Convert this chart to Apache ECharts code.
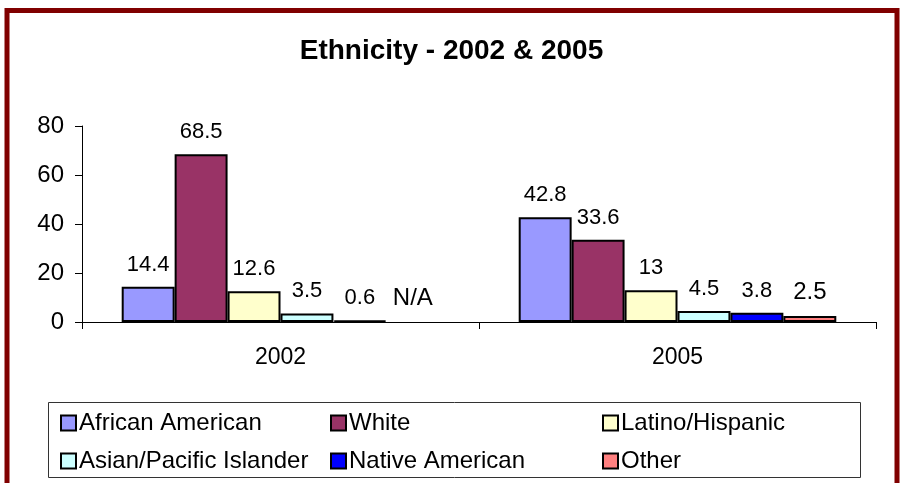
<!DOCTYPE html>
<html>
<head>
<meta charset="utf-8">
<script src="https://cdn.jsdelivr.net/npm/echarts@6/dist/echarts.min.js"></script>
<style>
html,body{margin:0;padding:0;background:#fff;}
#chart{width:903px;height:483px;}
</style>
</head>
<body>
<div id="chart"></div>
<script>
// ---- Data ----
const categories = ['2002', '2005'];
const seriesNames = ['African American', 'White', 'Latino/Hispanic', 'Asian/Pacific Islander', 'Native American', 'Other'];
const africanAmerican = [14.4, 42.8];
const white = [68.5, 33.6];
const latinoHispanic = [12.6, 13];
const asianPacific = [3.5, 4.5];
const nativeAmerican = [0.6, 3.8];
const other = [null, 2.5]; // null = N/A
const naLabel = 'N/A';
const yMin = 0, yMax = 80, yInterval = 20;

const colors = ['#9999FF', '#993366', '#FFFFCC', '#CCFFFF', '#0000FF', '#FF8080'];
const FONT = '"Liberation Sans", Arial, sans-serif';

const valuesList = [africanAmerican, white, latinoHispanic, asianPacific, nativeAmerican, other];

const series = valuesList.map((vals, i) => {
  const isOther = i === 5;
  return {
    name: seriesNames[i],
    type: 'bar',
    barGap: '0%',
    barCategoryGap: '20%',
    itemStyle: { color: colors[i], borderColor: '#000', borderWidth: 2 },
    label: {
      show: true,
      position: 'top',
      distance: isOther ? 12 : 11,
      color: '#000',
      fontFamily: FONT,
      fontSize: isOther ? 24 : 22
    },
    data: vals.map(v => v === null
      ? { value: 0, itemStyle: { color: 'rgba(0,0,0,0)', borderWidth: 0 }, label: { formatter: naLabel } }
      : v)
  };
});

const legendCommon = {
  orient: 'vertical',
  top: 406,
  itemWidth: 15,
  itemHeight: 15,
  itemGap: 14,
  icon: 'rect',
  textStyle: { fontFamily: FONT, fontSize: 24, color: '#000', padding: [0, 0, 0, -2] }
};

const chart = echarts.init(document.getElementById('chart'), null, { renderer: 'canvas' });
chart.setOption({
  backgroundColor: '#fff',
  animation: false,
  title: {
    text: 'Ethnicity - 2002 & 2005',
    left: 'center',
    top: 32,
    textStyle: { fontFamily: FONT, fontSize: 28, fontWeight: 'bold', color: '#000' }
  },
  grid: { left: 82, right: 27, top: 126, bottom: 161, containLabel: false },
  xAxis: {
    type: 'category',
    data: categories,
    axisLine: { lineStyle: { color: '#000', width: 1 } },
    axisTick: { show: true, length: 7, lineStyle: { color: '#000' } },
    axisLabel: { color: '#000', fontFamily: FONT, fontSize: 23, margin: 24 }
  },
  yAxis: {
    type: 'value',
    min: yMin, max: yMax, interval: yInterval,
    axisLine: { show: true, lineStyle: { color: '#000', width: 1 } },
    axisTick: { show: true, length: 7, lineStyle: { color: '#000' } },
    splitLine: { show: false },
    axisLabel: { color: '#000', fontFamily: FONT, fontSize: 24, margin: 18 }
  },
  legend: [
    Object.assign({}, legendCommon, { left: 55, data: [seriesNames[0], seriesNames[3]] }),
    Object.assign({}, legendCommon, { left: 325, data: [seriesNames[1], seriesNames[4]] }),
    Object.assign({}, legendCommon, { left: 597, data: [seriesNames[2], seriesNames[5]] })
  ],
  graphic: [
    { type: 'rect', shape: { x: 48.5, y: 402.5, width: 812, height: 75 }, style: { fill: 'none', stroke: '#333', lineWidth: 1 }, z: 0 },
    { type: 'rect', shape: { x: 7, y: 10.5, width: 890, height: 520 }, style: { fill: 'none', stroke: '#800000', lineWidth: 5 }, z: 100 }
  ],
  series: series
});
</script>
</body>
</html>
